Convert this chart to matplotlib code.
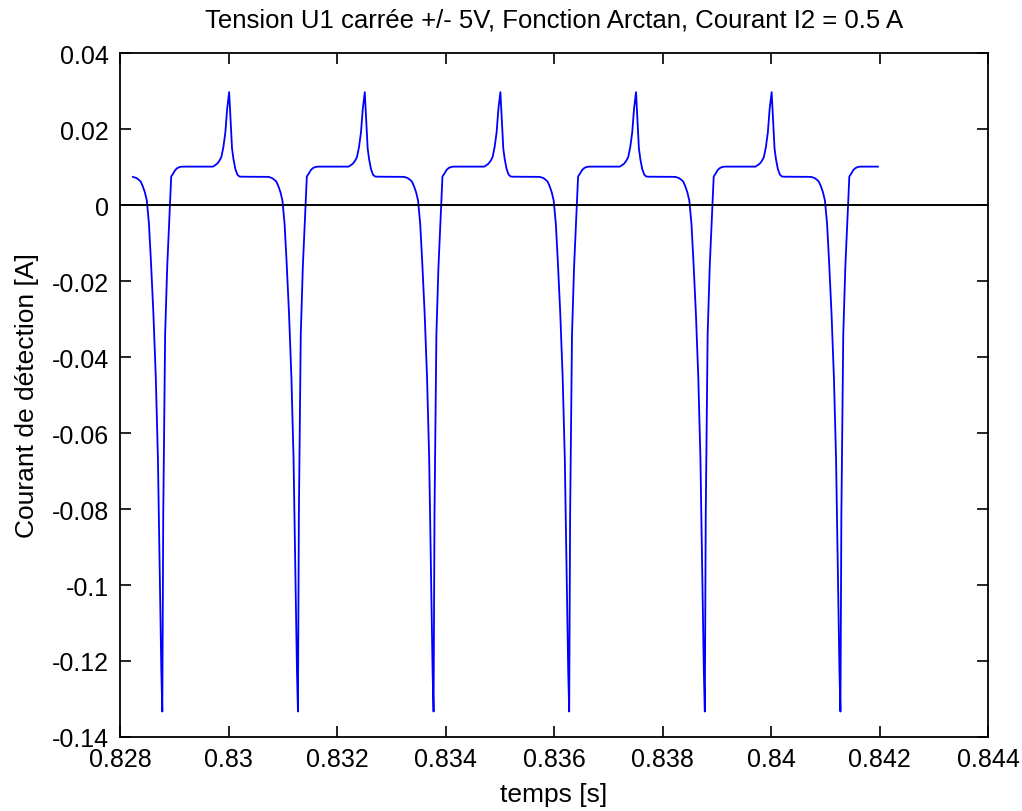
import numpy as np
import matplotlib
matplotlib.use("Agg")
import matplotlib.pyplot as plt

plt.rcParams['font.family'] = ['Liberation Sans', 'DejaVu Sans']

# one period of the detection current, offsets (microseconds) from the dip minimum
shape_us = [0, 17, 52, 90, 127, 164, 201, 238, 275, 321, 369,
            934, 977, 1014, 1051, 1088, 1125, 1162, 1195, 1232, 1256,
            1285, 1311, 1346, 1383, 1420, 1459,
            1958, 2022, 2061, 2100, 2138, 2177, 2214, 2254, 2292, 2336,
            2380, 2419, 2451, 2482]
shape_amp = [-0.1333, -0.0816, -0.0341, -0.0163, -0.0041, 0.0075, 0.0083, 0.0092, 0.0097, 0.0100, 0.0101,
             0.0101, 0.0105, 0.0109, 0.0116, 0.0126, 0.0152, 0.0191, 0.0253, 0.0297, 0.0228,
             0.0149, 0.0121, 0.0095, 0.0080, 0.0075, 0.00745,
             0.0074, 0.0071, 0.0067, 0.0062, 0.0050, 0.0034, 0.0012, -0.0050, -0.0153, -0.0287,
             -0.0455, -0.0667, -0.0943, -0.1228]

# times of the dip minima (first one is before the visible start)
dip_times = [0.82628, 0.82878, 0.83128, 0.83378, 0.83628, 0.83878, 0.84128]
t_start = 0.82822
t_end, i_end = 0.84197, 0.0101

t = []
i = []
for d in dip_times:
    for off, a in zip(shape_us, shape_amp):
        tt = d + off * 1e-6
        if t_start <= tt <= t_end:
            t.append(tt)
            i.append(a)
t.append(t_end)
i.append(i_end)

xticks = [0.828, 0.830, 0.832, 0.834, 0.836, 0.838, 0.840, 0.842, 0.844]
xtick_labels = ['0.828', '0.83', '0.832', '0.834', '0.836', '0.838', '0.84', '0.842', '0.844']
yticks = [-0.14, -0.12, -0.1, -0.08, -0.06, -0.04, -0.02, 0, 0.02, 0.04]
ytick_labels = ['-0.14', '-0.12', '-0.1', '-0.08', '-0.06', '-0.04', '-0.02', '0', '0.02', '0.04']

fig = plt.figure(figsize=(10.22, 8.12), dpi=100)
ax = fig.add_axes([120/1022, (812-738)/812, 868/1022, 684/812])

ax.plot(t, i, color=(0, 0, 1), lw=1.3)
ax.axhline(0, color='black', lw=1.4)

ax.set_xlim(0.828, 0.844)
ax.set_ylim(-0.14, 0.04)
ax.set_xticks(xticks)
ax.set_xticklabels(xtick_labels)
ax.set_yticks(yticks)
ax.set_yticklabels(ytick_labels)
ax.tick_params(direction='in', length=8, width=1.2, top=True, right=True, labelsize=18)
ax.tick_params(axis='x', pad=7)
ax.tick_params(axis='y', pad=8)
for s in ax.spines.values():
    s.set_linewidth(1.3)

ax.set_title('Tension U1 carrée +/- 5V, Fonction Arctan, Courant I2 = 0.5 A', fontsize=18.5, pad=19)
ax.set_xlabel('temps [s]', fontsize=19, labelpad=8)
ax.set_ylabel('Courant de détection [A]', fontsize=19, labelpad=9)

fig.savefig('out.png', dpi=100)
